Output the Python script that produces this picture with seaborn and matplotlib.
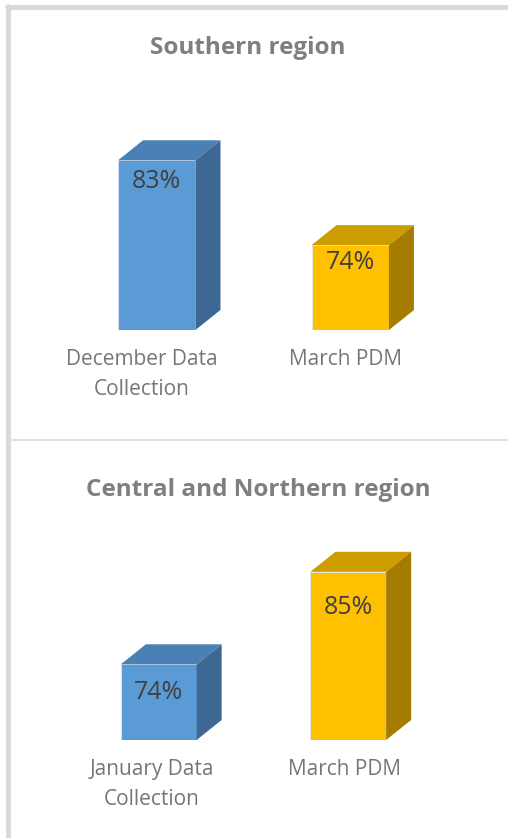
import matplotlib as mpl
mpl.use('Agg')
import matplotlib.pyplot as plt
import matplotlib.transforms as mtransforms
from matplotlib.patches import Polygon
from matplotlib.lines import Line2D
import pandas as pd
import seaborn as sns

# data
titles = ['Southern region', 'Central and Northern region']
south_labels = ['December Data\nCollection', 'March PDM']
south_values = [83, 74]
central_labels = ['January Data\nCollection', 'March PDM']
central_values = [74, 85]

W, H = 508, 838
front = ['#5b9bd5', '#ffc000']
top_c = ['#4b80b6', '#cd9c00']
side_c = ['#3c6893', '#a67c00']
depth = (25, 20)  # pixels right, up

sns.set_theme(style='white')
plt.rcParams['font.family'] = ['Open Sans', 'DejaVu Sans']

fig = plt.figure(figsize=(W / 100, H / 100), dpi=100)


def px_axes(left, top, right, bottom):
    return fig.add_axes([left / W, 1 - bottom / H, (right - left) / W, (bottom - top) / H])


def draw_panel(ax, labels, values, ylim, label_drop, label_shift):
    df = pd.DataFrame({'cat': labels, 'val': values})
    sns.barplot(data=df, x='cat', y='val', hue='cat', palette=front, width=0.4,
                legend=False, ax=ax, edgecolor='#dbe8f5', linewidth=0.6, saturation=1)
    ax.set_ylim(*ylim)
    ax.set_xlim(-0.5, 1.5)
    fig.canvas.draw()
    inv = ax.transData.inverted()
    dx, dy = depth
    for i, p in enumerate(ax.patches):
        x0, x1 = p.get_x(), p.get_x() + p.get_width()
        yt = p.get_y() + p.get_height()
        yb = ylim[0]
        (X0, YT), (X1, YB) = ax.transData.transform([(x0, yt), (x1, yb)])
        top_pts = [(X0, YT), (X0 + dx, YT + dy), (X1 + dx, YT + dy), (X1, YT)]
        side_pts = [(X1, YB), (X1 + dx, YB + dy), (X1 + dx, YT + dy), (X1, YT)]
        ax.add_patch(Polygon(inv.transform(top_pts), closed=True, fc=top_c[i],
                             ec='none', clip_on=False))
        ax.add_patch(Polygon(inv.transform(side_pts), closed=True, fc=side_c[i],
                             ec='none', clip_on=False))
        ax.annotate(f'{values[i]}%', xy=((x0 + x1) / 2, yt), xytext=(0, -label_drop[i]),
                    textcoords='offset pixels', ha='center', va='center',
                    fontsize=18, color='#404040')
    ax.set_xlabel('')
    ax.set_ylabel('')
    ax.set_yticks([])
    sns.despine(ax=ax, left=True, bottom=True)
    ax.tick_params(axis='x', length=0, pad=14, labelsize=15, labelcolor='#767676')
    for lab, s in zip(ax.get_xticklabels(), label_shift):
        shift = mtransforms.ScaledTranslation(s / 100, 0, fig.dpi_scale_trans)
        lab.set_transform(lab.get_transform() + shift)
        lab.set_linespacing(1.55)


ax1 = px_axes(60, 132, 447, 330)
draw_panel(ax1, south_labels, south_values, (65, 86), [21, 17], [-15, -5])
ax2 = px_axes(64, 555, 443, 740)
draw_panel(ax2, central_labels, central_values, (65, 87), [28, 36], [-7, -4])

fig.text(248 / W, 1 - 48.5 / H, titles[0], ha='center', va='center',
         fontsize=17.5, fontweight='bold', color='#7f7f7f')
fig.text(258 / W, 1 - 489.5 / H, titles[1], ha='center', va='center',
         fontsize=17.5, fontweight='bold', color='#7f7f7f')

# frame lines
border = '#d9d9d9'
fig.add_artist(Line2D([7 / W, 1], [1 - 7.5 / H, 1 - 7.5 / H], color=border, lw=3.5,
                      transform=fig.transFigure))
fig.add_artist(Line2D([7.5 / W, 7.5 / W], [0, 1 - 6 / H], color=border, lw=3.5,
                      transform=fig.transFigure))
fig.add_artist(Line2D([10 / W, 1], [1 - 440 / H, 1 - 440 / H], color='#e0e0e0', lw=1.5,
                      transform=fig.transFigure))

fig.savefig('out.png', dpi=100, facecolor='white')
